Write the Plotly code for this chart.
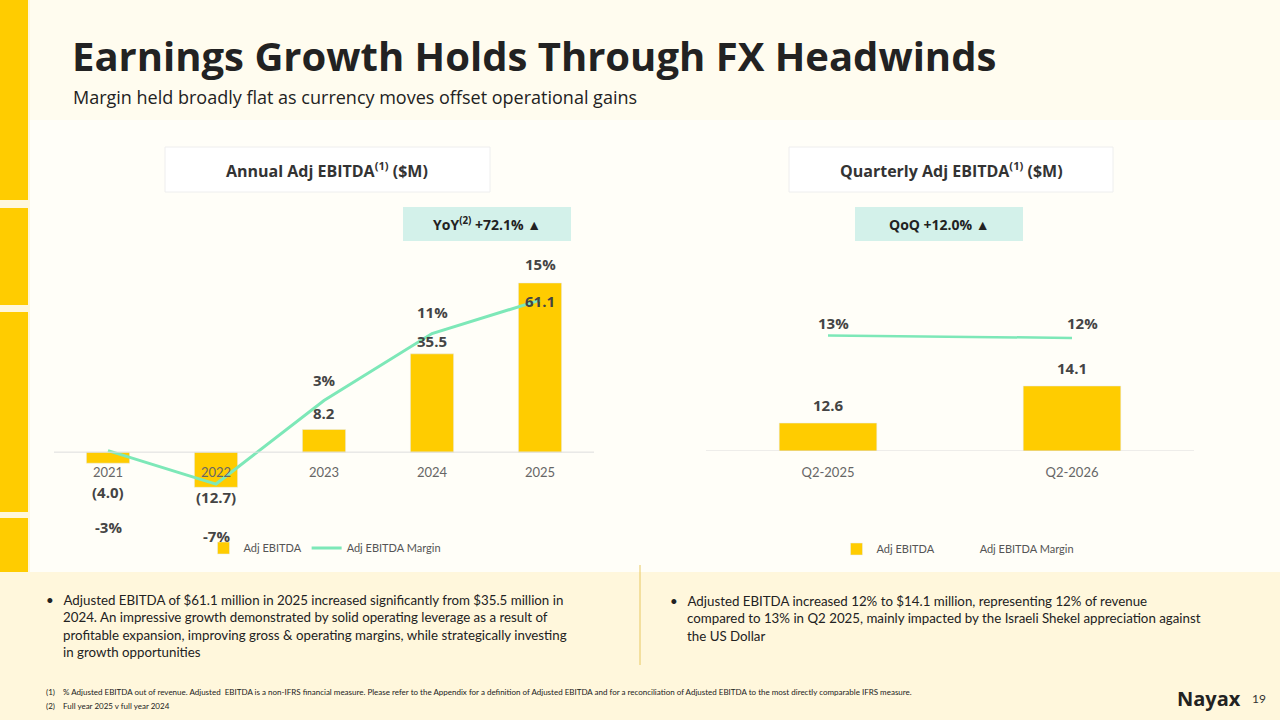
import plotly.graph_objects as go

years = ["2021", "2022", "2023", "2024", "2025"]
annual_ebitda = [-4.0, -12.7, 8.2, 35.5, 61.1]
annual_labels = ["(4.0)", "(12.7)", "8.2", "35.5", "61.1"]
annual_margin = [-3, -7, 3, 11, 15]
quarters = ["Q2-2025", "Q2-2026"]
q_ebitda = [12.6, 14.1]
q_margin = [12.6, 12.5]
q_margin_labels = ["13%", "12%"]

YEL = "#FFCC00"
TEAL = "#7DE8B8"
W, H = 1280, 720
def px(x): return x / W
def py(y): return 1 - y / H

xi = list(range(len(years)))
qi = list(range(len(quarters)))

fig = go.Figure()
fig.add_trace(go.Bar(x=xi, y=annual_ebitda, marker_color=YEL, width=0.4, name="Adj EBITDA",
                     xaxis="x", yaxis="y", legend="legend"))
fig.add_trace(go.Scatter(x=xi, y=annual_margin, mode="lines", line=dict(color=TEAL, width=3),
                         name="Adj EBITDA Margin", xaxis="x", yaxis="y2", legend="legend"))
fig.add_trace(go.Bar(x=qi, y=q_ebitda, marker_color=YEL, width=0.4, name="Adj EBITDA",
                     xaxis="x3", yaxis="y3", legend="legend2"))
fig.add_trace(go.Scatter(x=qi, y=q_margin, mode="lines", line=dict(color=TEAL, width=2.5),
                         name="Adj EBITDA Margin", xaxis="x3", yaxis="y4", legend="legend2", showlegend=False))
fig.add_trace(go.Scatter(x=[0], y=[None], mode="lines", line=dict(color="rgba(0,0,0,0)"),
                         name="Adj EBITDA Margin", xaxis="x3", yaxis="y4", legend="legend2"))

ann = []
lab_font = dict(family="Open Sans", size=15, color="#444", weight="bold")
shifts = [-29, -10, 16, 13, -18]
for i, v, t, s in zip(xi, annual_ebitda, annual_labels, shifts):
    ann.append(dict(x=i, y=v, xref="x", yref="y", text=t, showarrow=False, yshift=s, font=lab_font))
mshift = [-76, -52, 20, 22, 36]
for i, m, s in zip(xi, annual_margin, mshift):
    ann.append(dict(x=i, y=m, xref="x", yref="y2", text=f"{m}%", showarrow=False, yshift=s, font=lab_font))
for i, v in zip(qi, q_ebitda):
    ann.append(dict(x=i, y=v, xref="x3", yref="y3", text=f"{v}", showarrow=False, yshift=18, font=lab_font))
for i, t, xs in zip(qi, q_margin_labels, [5, 10]):
    ann.append(dict(x=i, y=q_margin[0], xref="x3", yref="y4", text=t, showarrow=False, yshift=12, xshift=xs, font=lab_font))

def txt(x, y, t, size, color="#222", anchor="left", family="Lato", weight="normal", yanchor="middle"):
    ann.append(dict(x=px(x), y=py(y), xref="paper", yref="paper", text=t, showarrow=False,
                    xanchor=anchor, yanchor=yanchor, align="left",
                    font=dict(family=family, size=size, color=color, weight=weight)))

txt(70, 56, "Earnings Growth Holds Through FX Headwinds", 40, "#222", family="Open Sans", weight="bold")
txt(71, 97, "Margin held broadly flat as currency moves offset operational gains", 18, "#222", family="Open Sans")
txt(327, 170, "Annual Adj EBITDA<sup>(1)</sup> ($M)", 16, "#333", "center", "Open Sans", "bold")
txt(951, 170, "Quarterly Adj EBITDA<sup>(1)</sup> ($M)", 16, "#333", "center", "Open Sans", "bold")
txt(487, 224, "YoY<sup>(2)</sup> +72.1% ▲", 14, "#222", "center", "Open Sans", "bold")
txt(939, 224, "QoQ +12.0% ▲", 14, "#222", "center", "Open Sans", "bold")
txt(44, 626, "•&nbsp;&nbsp;&nbsp;Adjusted EBITDA of $61.1 million in 2025 increased significantly from $35.5 million in<br>"
    "&nbsp;&nbsp;&nbsp;&nbsp;&nbsp;2024. An impressive growth demonstrated by solid operating leverage as a result of<br>"
    "&nbsp;&nbsp;&nbsp;&nbsp;&nbsp;profitable expansion, improving gross &amp; operating margins, while strategically investing<br>"
    "&nbsp;&nbsp;&nbsp;&nbsp;&nbsp;in growth opportunities", 13.3)
txt(668, 618, "•&nbsp;&nbsp;&nbsp;Adjusted EBITDA increased 12% to $14.1 million, representing 12% of revenue<br>"
    "&nbsp;&nbsp;&nbsp;&nbsp;&nbsp;compared to 13% in Q2 2025, mainly impacted by the Israeli Shekel appreciation against<br>"
    "&nbsp;&nbsp;&nbsp;&nbsp;&nbsp;the US Dollar", 13.3)
txt(44, 692, "(1)&nbsp;&nbsp;&nbsp;&nbsp;% Adjusted EBITDA out of revenue. Adjusted  EBITDA is a non-IFRS financial measure. Please refer to the Appendix for a definition of Adjusted EBITDA and for a reconciliation of Adjusted EBITDA to the most directly comparable IFRS measure.", 8)
txt(44, 706, "(2)&nbsp;&nbsp;&nbsp;&nbsp;Full year 2025 v full year 2024", 8)
txt(1175, 698, "Nayax", 20, "#222", family="Open Sans", weight="bold")
txt(1250, 698, "19", 12, "#333")

shapes = [
    dict(type="rect", xref="paper", yref="paper", x0=0, x1=1, y0=0, y1=1, fillcolor="#FFF7DC", line_width=0, layer="below"),
    dict(type="rect", xref="paper", yref="paper", x0=px(30), x1=1, y0=py(572), y1=1, fillcolor="#FFFCEF", line_width=0, layer="below"),
    dict(type="rect", xref="paper", yref="paper", x0=px(30), x1=1, y0=py(572), y1=py(120), fillcolor="#FFFEF8", line_width=0, layer="below"),
    dict(type="line", xref="paper", yref="paper", x0=px(640), x1=px(640), y0=py(565), y1=py(665), line=dict(color="#E8C860", width=1)),
]
for a, b in [(0, 200), (208, 305), (312, 512), (518, 572)]:
    shapes.append(dict(type="rect", xref="paper", yref="paper", x0=0, x1=px(28), y0=py(b), y1=py(a),
                       fillcolor=YEL, line_width=0, layer="below"))
for x0, x1 in [(165, 490), (789, 1113)]:
    shapes.append(dict(type="rect", xref="paper", yref="paper", x0=px(x0), x1=px(x1), y0=py(192), y1=py(147),
                       fillcolor="white", line=dict(color="#EEE", width=1), layer="below"))
for x0, x1 in [(403, 571), (855, 1023)]:
    shapes.append(dict(type="rect", xref="paper", yref="paper", x0=px(x0), x1=px(x1), y0=py(241), y1=py(207),
                       fillcolor="#D3F1EA", line_width=0, layer="below"))
shapes.append(dict(type="line", xref="x domain", yref="y", x0=0, x1=1, y0=0, y1=0, line=dict(color="#DDD", width=1)))
shapes.append(dict(type="line", xref="x3 domain", yref="y3", x0=0, x1=1, y0=11.47, y1=11.47, line=dict(color="#DDD", width=1)))

tf = dict(family="Lato", size=13, color="#666")
top, bot = 250, 520
fig.update_layout(
    width=W, height=H, margin=dict(l=0, r=0, t=0, b=0, pad=0),
    paper_bgcolor="#FFF7DC", plot_bgcolor="rgba(0,0,0,0)", showlegend=True,
    shapes=shapes, annotations=ann, barmode="overlay",
    xaxis=dict(domain=[px(54), px(594)], range=[-0.5, 4.5], anchor="free", position=py(463),
               tickvals=xi, ticktext=years, showgrid=False, zeroline=False, showline=False, ticks="", tickfont=tf),
    yaxis=dict(domain=[py(bot), py(top)], range=[-24.5, 73], visible=False),
    yaxis2=dict(domain=[py(bot), py(top)], range=[-11.3, 21], overlaying="y", visible=False),
    xaxis3=dict(domain=[px(706), px(1194)], range=[-0.5, 1.5], anchor="free", position=py(463),
                tickvals=qi, ticktext=quarters, showgrid=False, zeroline=False, ticks="", tickfont=tf),
    yaxis3=dict(domain=[py(451), py(250)], range=[11.47, 19.6], visible=False),
    yaxis4=dict(domain=[py(451), py(250)], range=[8, 16], overlaying="y3", visible=False),
    legend=dict(x=px(325), y=py(548), xanchor="center", yanchor="middle", orientation="h",
                font=dict(family="Lato", size=11, color="#555"), bgcolor="rgba(0,0,0,0)"),
    legend2=dict(x=px(958), y=py(549), xanchor="center", yanchor="middle", orientation="h",
                 font=dict(family="Lato", size=11, color="#555"), bgcolor="rgba(0,0,0,0)"),
)
fig.write_html("out.html", config={"displayModeBar": False})
with open("out.html", encoding="utf-8") as f:
    html = f.read()
html = html.replace("<head>", "<head><style>html,body{margin:0;padding:0;overflow:hidden}</style>", 1)
with open("out.html", "w", encoding="utf-8") as f:
    f.write(html)
